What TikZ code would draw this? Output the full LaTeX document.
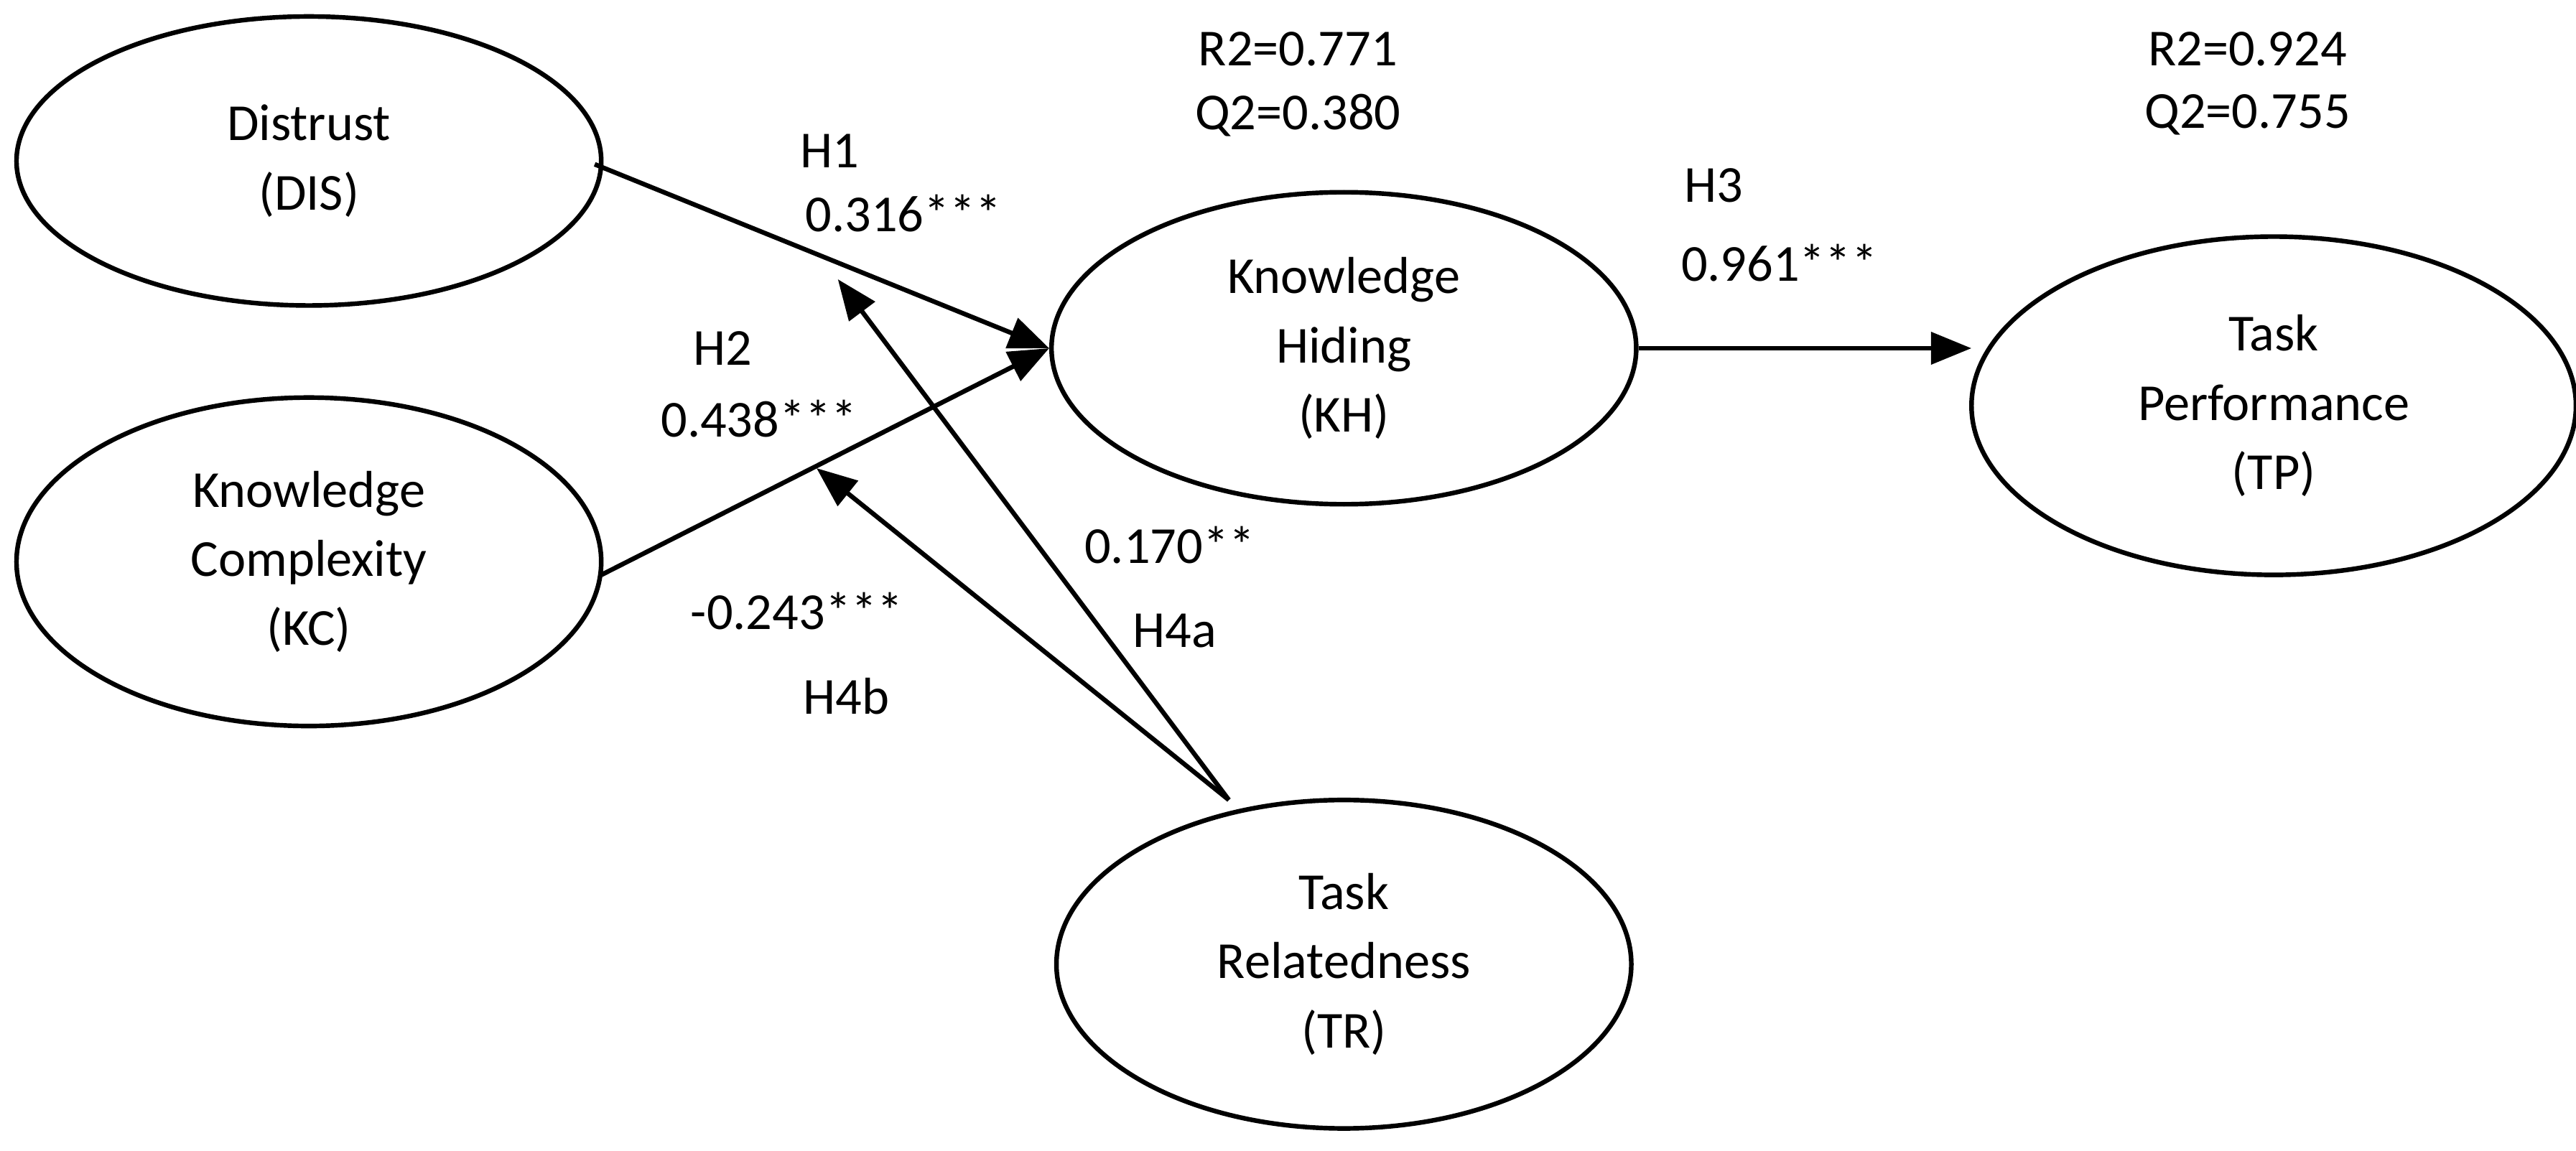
\documentclass[tikz,border=0pt]{standalone}
\usepackage{fontspec}
\setmainfont{Carlito}
\usetikzlibrary{shapes.geometric,arrows.meta}
\begin{document}
\begin{tikzpicture}[x=0.02cm,y=-0.02cm,
  lv/.style={ellipse,draw,line width=1.6pt,align=center,font=\fontsize{18}{24}\selectfont},
  lab/.style={font=\fontsize{18}{24}\selectfont},
  arr/.style={line width=1.6pt,-{Triangle[length=14pt,width=11pt]}}]
\useasboundingbox (0,0) rectangle (1568,700.7);
\node[lv,minimum width=7.12cm,minimum height=3.52cm] (dis) at (188,98) {Distrust\\(DIS)};
\node[lv,minimum width=7.12cm,minimum height=4cm] (kc) at (188,342) {Knowledge\\Complexity\\(KC)};
\node[lv,minimum width=7.12cm,minimum height=3.8cm] (kh) at (818,212) {Knowledge\\Hiding\\(KH)};
\node[lv,minimum width=7.36cm,minimum height=4.12cm] (tp) at (1384,247) {Task\\Performance\\(TP)};
\node[lv,minimum width=7cm,minimum height=4cm] (tr) at (818,587) {Task\\Relatedness\\(TR)};
\coordinate (trs) at (748,487);
\coordinate (m1) at (510,170);
\coordinate (m2) at (497,285);
\coordinate (tpin) at (1200,212);
\draw[arr] (362,100) -- (kh.west);
\draw[arr] (366,350) -- (kh.west);
\draw[arr] (kh.east) -- (tpin);
\draw[arr] (trs) -- (m1);
\draw[arr] (trs) -- (m2);
\node[lab] (t1) at (505,92) {H1};
\node[lab] (t2) at (550,130) {0.316***};
\node[lab] (t3) at (440,212) {H2};
\node[lab] (t4) at (462,255) {0.438***};
\node[lab] (t5) at (712,332) {0.170**};
\node[lab] (t6) at (715,384) {H4a};
\node[lab] (t7) at (485,372) {-0.243***};
\node[lab] (t8) at (515,424) {H4b};
\node[lab] (t9) at (1043,113) {H3};
\node[lab] (t10) at (1083,160) {0.961***};
\node[lab] (t11) at (790,30) {R2=0.771};
\node[lab] (t12) at (790,70) {Q2=0.380};
\node[lab] (t13) at (1368,30) {R2=0.924};
\node[lab] (t14) at (1368,70) {Q2=0.755};
\end{tikzpicture}
\end{document}
